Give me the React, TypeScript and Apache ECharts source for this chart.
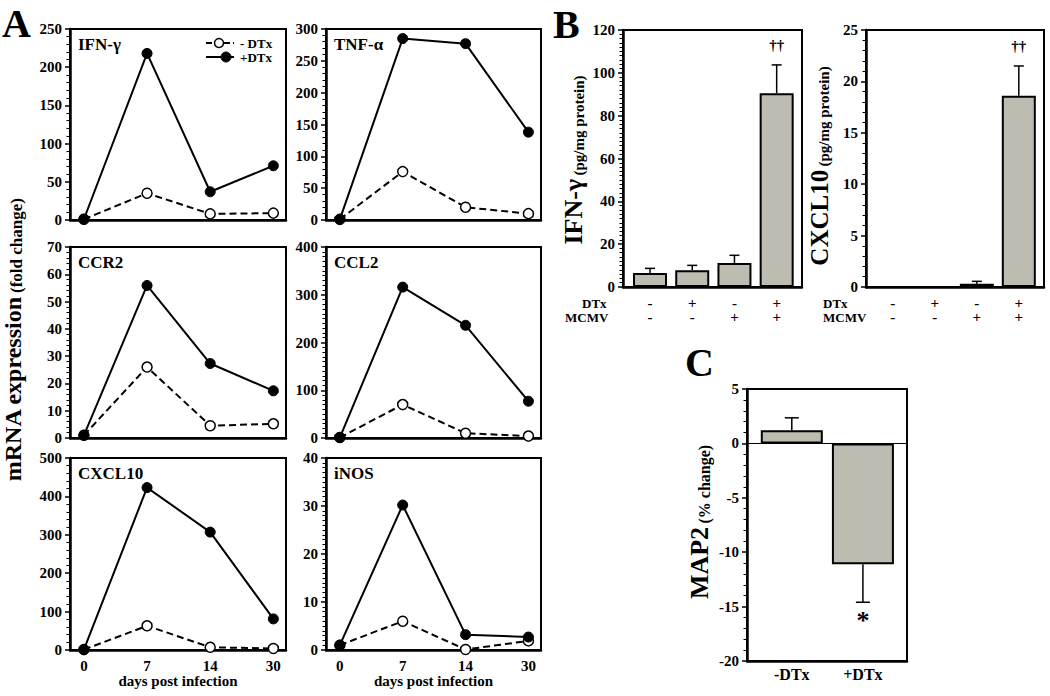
import React, { useEffect, useRef } from "react";
import * as echarts from "echarts";

// ---------- data ----------
const days = ["0", "7", "14", "30"];
const dayIdx = [0, 1, 2, 3];

const ifngMinus = [1, 35, 8, 9];
const ifngPlus = [1, 218, 37, 71];
const tnfMinus = [1, 76, 20, 10];
const tnfPlus = [1, 285, 277, 138];
const ccr2Minus = [1, 26, 4.5, 5.2];
const ccr2Plus = [1, 55.9, 27.3, 17.3];
const ccl2Minus = [1, 70, 10, 4];
const ccl2Plus = [1, 316, 236, 77];
const cxcl10Minus = [1, 63, 7, 4];
const cxcl10Plus = [1, 423, 307, 81];
const inosMinus = [1, 6, 0.1, 1.9];
const inosPlus = [1, 30.2, 3.2, 2.7];

const panelNames = ["IFN-γ", "TNF-α", "CCR2", "CCL2", "CXCL10", "iNOS"];
const panelMinus = [ifngMinus, tnfMinus, ccr2Minus, ccl2Minus, cxcl10Minus, inosMinus];
const panelPlus = [ifngPlus, tnfPlus, ccr2Plus, ccl2Plus, cxcl10Plus, inosPlus];
const panelMax = [250, 300, 70, 400, 500, 40];
const panelInterval = [50, 50, 10, 100, 100, 10];
const panelMinor = [5, 5, 5, 10, 5, 10];

const bConds = [0, 1, 2, 3];
const dtxSigns = ["-", "+", "-", "+"];
const mcmvSigns = ["-", "-", "+", "+"];
const ifngProtein = [6.5, 7.8, 11.2, 90.5];
const ifngProteinErr = [2.2, 2.3, 3.6, 13.2];
const ifngProteinMarks = ["", "", "", "††"];
const cxcl10Protein = [0, 0, 0.32, 18.6];
const cxcl10ProteinErr = [0, 0, 0.23, 2.9];
const cxcl10ProteinMarks = ["", "", "", "††"];

const map2Idx = [0, 1];
const map2Groups = ["-DTx", "+DTx"];
const map2Change = [1.2, -11.1];
const map2Err = [1.15, 3.5];
const map2Marks = ["", "*"];

// ---------- layout / style ----------
const SERIF = '"Liberation Serif", "Times New Roman", serif';
const BAR = "#bebcb0";
const lineLayout = [
  { left: 70, top: 29, width: 216, height: 191, bottomRow: false },
  { left: 326, top: 29, width: 215, height: 191, bottomRow: false },
  { left: 70, top: 247, width: 216, height: 191, bottomRow: false },
  { left: 326, top: 247, width: 215, height: 191, bottomRow: false },
  { left: 70, top: 458, width: 216, height: 192, bottomRow: true },
  { left: 326, top: 458, width: 215, height: 192, bottomRow: true },
];

const boldText = (size: number) => ({
  color: "#000",
  fontFamily: SERIF,
  fontWeight: "bold" as const,
  fontSize: size,
});

const yAxisBase = (gridIndex: number, min: number, max: number, interval: number, minor: number) => ({
  gridIndex,
  type: "value",
  min,
  max,
  interval,
  axisLine: { show: true, onZero: false, lineStyle: { color: "#000", width: 2.5 } },
  axisTick: { show: true, inside: false, length: 5, lineStyle: { color: "#000", width: 1.5 } },
  minorTick: { show: true, splitNumber: minor, length: 3.5, lineStyle: { color: "#000", width: 1 } },
  minorSplitLine: { show: false },
  splitLine: { show: false },
  axisLabel: { ...boldText(15), margin: 8 },
});

const makeErr = (marks: string[], cap: number, markSize: number, gap: number) =>
  (params: any, api: any) => {
    const x = api.value(0);
    const v = api.value(1);
    const e = api.value(2);
    const dir = v < 0 ? -1 : 1;
    const base = api.coord([x, v]);
    const tip = api.coord([x, v + dir * e]);
    const children: any[] = [];
    if (e > 0) {
      children.push({
        type: "line",
        shape: { x1: base[0], y1: base[1], x2: tip[0], y2: tip[1] },
        style: { stroke: "#000", lineWidth: 1.5 },
      });
      children.push({
        type: "line",
        shape: { x1: tip[0] - cap, y1: tip[1], x2: tip[0] + cap, y2: tip[1] },
        style: { stroke: "#000", lineWidth: 1.5 },
      });
    }
    const m = marks[params.dataIndex];
    if (m) {
      children.push({
        type: "text",
        x: tip[0],
        y: dir > 0 ? tip[1] - gap : tip[1] + gap,
        style: {
          text: m,
          fill: "#000",
          fontFamily: SERIF,
          fontWeight: "bold",
          fontSize: markSize,
          align: "center",
          verticalAlign: dir > 0 ? "bottom" : "top",
        },
      });
    }
    return { type: "group", children };
  };

function buildOption() {
  const grid: any[] = [];
  const xAxis: any[] = [];
  const yAxis: any[] = [];
  const series: any[] = [];
  const graphic: any[] = [];

  // ----- panel A -----
  lineLayout.forEach((L, i) => {
    grid.push({
      left: L.left, top: L.top, width: L.width, height: L.height,
      show: true, borderColor: "#000", borderWidth: 2,
    });
    xAxis.push({
      gridIndex: i,
      type: "value",
      min: -0.22,
      max: 3.2,
      axisLine: { show: true, lineStyle: { color: "#000", width: 2.5 } },
      axisTick: { show: false },
      splitLine: { show: false },
      axisLabel: L.bottomRow
        ? {
            show: true,
            ...boldText(15),
            margin: 8,
            customValues: dayIdx,
            formatter: (v: number) => (Number.isInteger(v) ? days[v] : ""),
          }
        : { show: false },
      name: L.bottomRow ? "days post infection" : "",
      nameLocation: "middle",
      nameGap: 23,
      nameTextStyle: boldText(15),
    });
    yAxis.push(yAxisBase(i, 0, panelMax[i], panelInterval[i], panelMinor[i]));
    series.push({
      type: "line",
      xAxisIndex: i,
      yAxisIndex: i,
      data: panelMinus[i].map((v, k) => [dayIdx[k], v]),
      symbol: "circle",
      symbolSize: 10,
      lineStyle: { color: "#000", width: 2, type: [7, 4] },
      itemStyle: { color: "#fff", borderColor: "#000", borderWidth: 1.5 },
      z: 3,
    });
    series.push({
      type: "line",
      xAxisIndex: i,
      yAxisIndex: i,
      data: panelPlus[i].map((v, k) => [dayIdx[k], v]),
      symbol: "circle",
      symbolSize: 10,
      lineStyle: { color: "#000", width: 2 },
      itemStyle: { color: "#000", borderColor: "#000", borderWidth: 1 },
      z: 4,
    });
    graphic.push({
      type: "text",
      x: L.left + 8,
      y: L.top + 15,
      style: {
        text: panelNames[i],
        fill: "#000",
        fontFamily: SERIF,
        fontWeight: "bold",
        fontSize: 17,
        align: "left",
        verticalAlign: "middle",
      },
    });
  });

  // ----- panel B (grids 6, 7) -----
  const bPanels = [
    { gi: 6, left: 623, width: 179, max: 120, interval: 20, minor: 10, vals: ifngProtein, errs: ifngProteinErr, marks: ifngProteinMarks },
    { gi: 7, left: 866, width: 178, max: 25, interval: 5, minor: 5, vals: cxcl10Protein, errs: cxcl10ProteinErr, marks: cxcl10ProteinMarks },
  ];
  const extraAxes: any[] = [];
  bPanels.forEach((B) => {
    grid.push({ left: B.left, top: 30, width: B.width, height: 257, show: true, borderColor: "#000", borderWidth: 2 });
    xAxis.push({
      gridIndex: B.gi,
      type: "value",
      min: -0.64,
      max: 3.6,
      axisLine: { show: true, onZero: false, lineStyle: { color: "#000", width: 2.5 } },
      axisTick: { show: false },
      splitLine: { show: false },
      axisLabel: {
        ...boldText(15),
        margin: 8,
        customValues: bConds,
        formatter: (v: number) => (Number.isInteger(v) ? dtxSigns[v] : ""),
      },
    });
    extraAxes.push({
      gridIndex: B.gi,
      type: "value",
      position: "bottom",
      offset: 14,
      min: -0.64,
      max: 3.6,
      axisLine: { show: false },
      axisTick: { show: false },
      splitLine: { show: false },
      axisLabel: {
        ...boldText(15),
        margin: 8,
        customValues: bConds,
        formatter: (v: number) => (Number.isInteger(v) ? mcmvSigns[v] : ""),
      },
    });
    yAxis.push(yAxisBase(B.gi, 0, B.max, B.interval, B.minor));
    series.push({
      type: "bar",
      xAxisIndex: B.gi,
      yAxisIndex: B.gi,
      data: B.vals.map((v, k) => [bConds[k], v]),
      barWidth: 34,
      itemStyle: { color: BAR, borderColor: "#000", borderWidth: 2 },
      z: 2,
    });
    series.push({
      type: "custom",
      xAxisIndex: B.gi,
      yAxisIndex: B.gi,
      data: B.vals.map((v, k) => [bConds[k], v, B.errs[k]]),
      renderItem: makeErr(B.marks, 5, 15, 12),
      z: 5,
    });
  });

  // ----- panel C: MAP2 (grid 8) -----
  grid.push({ left: 747, top: 389, width: 160, height: 272, show: true, borderColor: "#000", borderWidth: 2 });
  xAxis.push({
    gridIndex: 8,
    type: "value",
    min: -0.63,
    max: 1.62,
    axisLine: { show: true, onZero: false, lineStyle: { color: "#000", width: 2.5 } },
    axisTick: { show: false },
    splitLine: { show: false },
    axisLabel: {
      ...boldText(16),
      margin: 5,
      customValues: map2Idx,
      formatter: (v: number) => (Number.isInteger(v) ? map2Groups[v] : ""),
    },
  });
  yAxis.push(yAxisBase(8, -20, 5, 5, 5));
  series.push({
    type: "bar",
    xAxisIndex: 8,
    yAxisIndex: 8,
    data: map2Change.map((v, k) => [map2Idx[k], v]),
    barWidth: 62,
    itemStyle: { color: BAR, borderColor: "#000", borderWidth: 2 },
    markLine: {
      silent: true,
      symbol: ["none", "none"],
      label: { show: false },
      lineStyle: { color: "#000", width: 1, type: "solid" },
      data: [{ yAxis: 0 }],
    },
    z: 2,
  });
  series.push({
    type: "custom",
    xAxisIndex: 8,
    yAxisIndex: 8,
    data: map2Change.map((v, k) => [map2Idx[k], v, map2Err[k]]),
    renderItem: makeErr(map2Marks, 7, 26, 5),
    z: 5,
  });
  extraAxes.forEach((a) => xAxis.push(a));

  // ----- letters, axis names, legend -----
  const letter = (t: string, x: number, y: number) => ({
    type: "text",
    x,
    y,
    style: { text: t, fill: "#000", fontFamily: SERIF, fontWeight: "bold", fontSize: 40, align: "left", verticalAlign: "middle" },
  });
  graphic.push(letter("A", 2, 23), letter("B", 553, 24), letter("C", 685, 362));

  const vName = (big: string, small: string, x: number, y: number, bs: number, ss: number) => ({
    type: "text",
    x,
    y,
    rotation: Math.PI / 2,
    style: {
      text: `{a|${big}} {b|${small}}`,
      fill: "#000",
      align: "center",
      verticalAlign: "middle",
      rich: {
        a: { fontFamily: SERIF, fontWeight: "bold", fontSize: bs, fill: "#000", verticalAlign: "bottom" },
        b: { fontFamily: SERIF, fontWeight: "bold", fontSize: ss, fill: "#000", verticalAlign: "bottom" },
      },
    },
  });
  graphic.push(
    vName("mRNA expression", "(fold change)", 13, 340, 24, 17),
    vName("IFN-γ", "(pg/mg protein)", 573, 160, 26, 15),
    vName("CXCL10", "(pg/mg protein)", 819, 166, 25, 15),
    vName("MAP2", "(% change)", 699, 522, 26, 16),
  );

  const rowLabel = (t: string, x: number, y: number) => ({
    type: "text",
    x,
    y,
    style: { text: t, fill: "#000", fontFamily: SERIF, fontWeight: "bold", fontSize: 13, align: "left", verticalAlign: "middle" },
  });
  graphic.push(
    rowLabel("DTx", 582, 303),
    rowLabel("MCMV", 565, 317),
    rowLabel("DTx", 823, 303),
    rowLabel("MCMV", 823, 317),
  );

  // legend in IFN-γ panel
  graphic.push(
    { type: "line", shape: { x1: 206, y1: 43, x2: 234, y2: 43 }, style: { stroke: "#000", lineWidth: 2, lineDash: [6, 3] } },
    { type: "circle", shape: { cx: 219, cy: 43, r: 4.5 }, style: { fill: "#fff", stroke: "#000", lineWidth: 1.5 } },
    { type: "text", x: 240, y: 43, style: { text: "- DTx", fill: "#000", fontFamily: SERIF, fontWeight: "bold", fontSize: 13, verticalAlign: "middle" } },
    { type: "line", shape: { x1: 206, y1: 57, x2: 234, y2: 57 }, style: { stroke: "#000", lineWidth: 2 } },
    { type: "circle", shape: { cx: 226, cy: 57, r: 5 }, style: { fill: "#000", stroke: "#000", lineWidth: 1 } },
    { type: "text", x: 240, y: 57, style: { text: "+DTx", fill: "#000", fontFamily: SERIF, fontWeight: "bold", fontSize: 13, verticalAlign: "middle" } },
  );

  return {
    animation: false,
    backgroundColor: "#fff",
    textStyle: { fontFamily: SERIF },
    grid,
    xAxis,
    yAxis,
    series,
    graphic,
  };
}

export default function App() {
  const ref = useRef<HTMLDivElement>(null);
  useEffect(() => {
    if (!ref.current) return;
    const chart = echarts.init(ref.current, undefined, { renderer: "svg" });
    chart.setOption(buildOption() as any);
    return () => chart.dispose();
  }, []);
  return (
    <div
      ref={ref}
      style={{ position: "fixed", left: 0, top: 0, width: 1050, height: 696, background: "#fff" }}
    />
  );
}
